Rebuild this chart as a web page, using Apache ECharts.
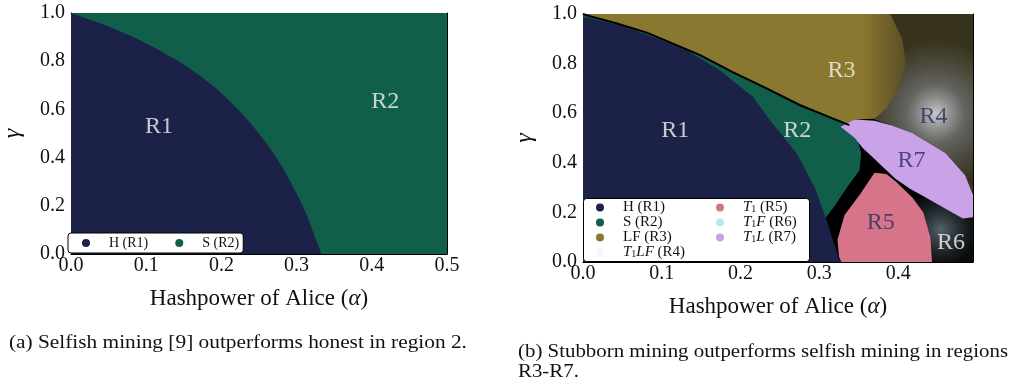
<!DOCTYPE html>
<html>
<head>
<meta charset="utf-8">
<script src="https://cdn.jsdelivr.net/npm/echarts@6/dist/echarts.min.js"></script>
<style>
  html, body { margin: 0; padding: 0; background: #fff; }
  #chart { width: 1011px; height: 385px; }
</style>
</head>
<body>
<div id="chart"></div>
<script>
// ---- panel (a): selfish vs honest ----
const aR2Area = [[0, 0], [0.5, 0], [0.5, 1], [0, 1]];
const aR1Area = [[0, 0], [0, 1], [0.045, 0.95], [0.083, 0.9], [0.115, 0.85], [0.143, 0.8],
  [0.167, 0.75], [0.188, 0.7], [0.206, 0.65], [0.222, 0.6], [0.237, 0.55], [0.25, 0.5],
  [0.262, 0.45], [0.273, 0.4], [0.283, 0.35], [0.292, 0.3], [0.3, 0.25], [0.308, 0.2],
  [0.315, 0.15], [0.321, 0.1], [0.327, 0.05], [0.333, 0]];
const aLabels = [['R1', 0.117, 0.527], ['R2', 0.418, 0.63]];

// ---- panel (b): stubborn vs selfish ----
const bR1Area = [[0, 0], [0, 0.988], [0.047, 0.956], [0.089, 0.907], [0.131, 0.855], [0.173, 0.774],
  [0.216, 0.665], [0.237, 0.573], [0.271, 0.44], [0.294, 0.3], [0.309, 0.17], [0.325, 0.01], [0.328, 0]];
// R2/R3 boundary (black fringe drawn on it)
const bR3Edge = [[0, 1], [0.01, 0.99], [0.04, 0.965], [0.081, 0.925], [0.148, 0.835], [0.19, 0.766],
  [0.233, 0.7], [0.275, 0.633], [0.316, 0.58], [0.338, 0.552]];
const bR2Right = [[0.348, 0.5], [0.353, 0.44], [0.351, 0.37], [0.335, 0.3], [0.318, 0.22], [0.306, 0.17], [0.25, 0], [0, 0]];
const bR3Top = [[0.05, 1], [0.39, 1], [0.405, 0.9], [0.41, 0.8], [0.4, 0.7], [0.385, 0.62], [0.37, 0.578], [0.345, 0.575]];
const bR4Area = [[0.37, 1], [0.495, 1], [0.495, 0.27], [0.485, 0.35], [0.46, 0.44], [0.418, 0.52],
  [0.392, 0.55], [0.37, 0.575], [0.375, 0.62], [0.385, 0.7], [0.38, 0.85]];
const bR5Area = [[0.328, 0], [0.443, 0], [0.441, 0.1], [0.432, 0.2], [0.418, 0.26], [0.397, 0.325],
  [0.385, 0.355], [0.37, 0.36], [0.351, 0.27], [0.332, 0.19], [0.323, 0.09], [0.325, 0.02]];
const bR6Area = [[0.443, 0], [0.495, 0], [0.495, 0.18], [0.482, 0.175], [0.46, 0.215], [0.435, 0.26],
  [0.42, 0.25], [0.432, 0.2], [0.441, 0.1]];
const bR7Area = [[0.327, 0.545], [0.345, 0.575], [0.37, 0.57], [0.392, 0.55], [0.418, 0.52], [0.46, 0.44],
  [0.485, 0.35], [0.495, 0.27], [0.495, 0.18], [0.482, 0.175], [0.46, 0.215], [0.435, 0.26],
  [0.415, 0.295], [0.397, 0.335], [0.385, 0.37], [0.37, 0.415], [0.355, 0.46], [0.345, 0.5]];
const bLabels = [['R1', 0.117, 0.53], ['R2', 0.272, 0.53], ['R3', 0.328, 0.77], ['R4', 0.445, 0.585],
  ['R5', 0.378, 0.16], ['R6', 0.467, 0.077], ['R7', 0.417, 0.41]];

const legendA = ['H (R1)', 'S (R2)'];
const legendB1 = ['H (R1)', 'S (R2)', 'LF (R3)', 'T1LF (R4)'];
const legendB2 = ['T1 (R5)', 'T1F (R6)', 'T1L (R7)'];

const SERIF = '"Liberation Serif", "DejaVu Serif", serif';
const NAVY = '#1c2148', GREEN = '#115e4a', OLIVE = '#8b7830', PINK = '#d6758a', LAV = '#c9a2e8';
const darkLabel = new Set(['R4', 'R5', 'R7']);

const chart = echarts.init(document.getElementById('chart'));

function poly(name, pts, color, idx, fill) {
  return {
    type: 'custom', name: name, xAxisIndex: idx, yAxisIndex: idx, clip: true, silent: true,
    itemStyle: { color: color },
    data: pts,
    renderItem: (params, api) => {
      if (params.dataIndex !== 0) return null;
      return {
        type: 'polygon',
        shape: { points: pts.map(p => api.coord(p)) },
        style: { fill: fill || color }
      };
    }
  };
}

function labels(list, idx) {
  return {
    type: 'scatter', xAxisIndex: idx, yAxisIndex: idx, silent: true, symbolSize: 0, z: 5,
    data: list.map(l => ({
      name: l[0], value: [l[1], l[2]],
      label: { color: darkLabel.has(l[0]) && idx === 2 ? '#2b3160' : '#f2f2f2' }
    })),
    label: { show: true, position: 'inside', formatter: '{b}', fontSize: 24, fontFamily: SERIF }
  };
}

function xAx(grid, max, top, showName) {
  return {
    type: 'value', gridIndex: grid, min: 0, max: max, interval: 0.1, position: top ? 'top' : 'bottom',
    axisLine: { show: true, onZero: false, lineStyle: { color: '#000', width: 1 } },
    axisTick: { show: true, inside: true, length: 4, lineStyle: { color: '#000' } },
    splitLine: { show: false },
    axisLabel: {
      show: !top, showMaxLabel: max === 0.5, margin: 2, fontSize: 20, fontFamily: SERIF, color: '#111',
      formatter: v => v.toFixed(1)
    },
    name: showName ? 'Hashpower of Alice ({it|α})' : '', nameLocation: 'middle', nameGap: 33,
    nameTextStyle: { fontSize: 23, fontFamily: SERIF, color: '#111',
      rich: { it: { fontSize: 23, fontFamily: SERIF, fontStyle: 'italic', color: '#111' } } }
  };
}

function yAx(grid, right) {
  return {
    type: 'value', gridIndex: grid, min: 0, max: 1, interval: 0.2, position: right ? 'right' : 'left',
    axisLine: { show: true, onZero: false, lineStyle: { color: '#000', width: 1 } },
    axisTick: { show: true, inside: true, length: 4, lineStyle: { color: '#000' } },
    splitLine: { show: false },
    axisLabel: { show: !right, margin: 6, fontSize: 20, fontFamily: SERIF, color: '#111', formatter: v => v.toFixed(1) },
    name: right ? '' : 'γ', nameLocation: 'middle', nameGap: 46,
    nameTextStyle: { fontSize: 24, fontFamily: SERIF, fontStyle: 'italic', color: '#111' }
  };
}

function legendText(size, lh) {
  return {
    fontFamily: SERIF, fontSize: size, color: '#111', lineHeight: lh,
    rich: {
      i: { fontFamily: SERIF, fontSize: size, fontStyle: 'italic', color: '#111', lineHeight: lh },
      s: { fontFamily: SERIF, fontSize: 10, color: '#111', lineHeight: lh, verticalAlign: 'bottom' }
    }
  };
}
const legendFmt = name => name.replace(/^T1(\w*)/, (m, r) => '{i|T}{s|1}' + (r ? '{i|' + r + '}' : ''));

const r4Fill = new echarts.graphic.RadialGradient(0.62, 0.55, 0.75, [
  { offset: 0, color: 'rgba(235,235,235,0.85)' },
  { offset: 0.4, color: 'rgba(165,165,160,0.6)' },
  { offset: 1, color: 'rgba(110,100,55,0.5)' }
]);
const r6Fill = new echarts.graphic.RadialGradient(0.45, 0.5, 0.65, [
  { offset: 0, color: 'rgba(170,200,215,0.5)' },
  { offset: 1, color: 'rgba(40,50,55,0.2)' }
]);
const r3Fill = new echarts.graphic.LinearGradient(0, 0, 1, 0, [
  { offset: 0, color: OLIVE },
  { offset: 0.86, color: OLIVE },
  { offset: 1, color: '#5a4e26' }
]);

const legendBase = {
  icon: 'circle', selectedMode: false, itemWidth: 36, itemHeight: 8, formatter: legendFmt
};

const option = {
  animation: false,
  grid: [
    { left: 68, top: 13, width: 379, height: 241, show: true, borderWidth: 0, backgroundColor: 'transparent' },
    { left: 583, top: 14, width: 390, height: 248, show: true, borderWidth: 0, backgroundColor: '#000' }
  ],
  xAxis: [xAx(0, 0.5, false, true), xAx(0, 0.5, true, false), xAx(1, 0.495, false, true), xAx(1, 0.495, true, false)],
  yAxis: [yAx(0, false), yAx(0, true), yAx(1, false), yAx(1, true)],
  legend: [
    Object.assign({
      data: legendA, left: 68, top: 233, orient: 'horizontal', itemGap: 27, padding: [3, 4, 3, 14],
      backgroundColor: '#fff', borderColor: '#000', borderWidth: 1, borderRadius: 3,
      textStyle: legendText(14, 13.7)
    }, legendBase),
    Object.assign({
      data: legendB1, left: 583, top: 198, orient: 'vertical', itemGap: 0, padding: [2, 0, 1, 13],
      textStyle: legendText(15, 13)
    }, legendBase),
    Object.assign({
      data: legendB2, left: 716, top: 198, orient: 'vertical', itemGap: 0, padding: [2, 0, 1, 0],
      textStyle: legendText(15, 13)
    }, legendBase)
  ],
  graphic: [
    { type: 'rect', z: 3, silent: true, shape: { x: 583.5, y: 198.5, width: 226, height: 63, r: 3 },
      style: { fill: '#fff', stroke: '#000', lineWidth: 1 } },
    { type: 'text', x: 9, y: 334, scaleX: 1.185, style: { text: '(a) Selfish mining [9] outperforms honest in region 2.', font: '18px ' + SERIF, fill: '#111' } },
    { type: 'text', x: 518, y: 343, scaleX: 1.16, style: { text: '(b) Stubborn mining outperforms selfish mining in regions', font: '18px ' + SERIF, fill: '#111' } },
    { type: 'text', x: 518, y: 363, scaleX: 1.16, style: { text: 'R3-R7.', font: '18px ' + SERIF, fill: '#111' } }
  ],
  series: [
    poly('S (R2)', aR2Area, GREEN, 0),
    poly('H (R1)', aR1Area, NAVY, 0),
    labels(aLabels, 0),

    poly('T1F (R6)', bR6Area, '#bde3f3', 2, r6Fill),
    poly('T1LF (R4)', bR4Area, '#f6f6f6', 2, r4Fill),
    poly('LF (R3)', bR3Top.concat(bR3Edge.slice().reverse()), OLIVE, 2, r3Fill),
    poly('S (R2)', bR3Edge.concat(bR2Right), GREEN, 2),
    poly('H (R1)', bR1Area, NAVY, 2),
    poly('T1 (R5)', bR5Area, PINK, 2),
    poly('T1L (R7)', bR7Area, LAV, 2),
    {
      type: 'line', xAxisIndex: 2, yAxisIndex: 2, data: bR3Edge, showSymbol: false, silent: true, z: 3,
      lineStyle: { color: '#000', width: 2 }
    },
    labels(bLabels, 2)
  ]
};
chart.setOption(option);
</script>
</body>
</html>
